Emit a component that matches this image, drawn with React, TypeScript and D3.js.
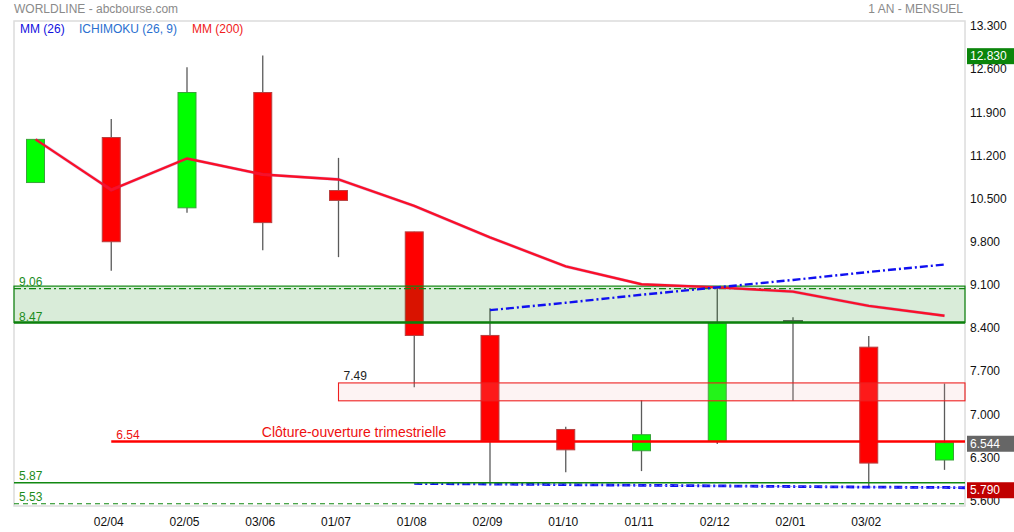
import React from 'react';
import * as d3 from 'd3';

const months = ['', '02/04', '02/05', '03/06', '01/07', '01/08', '02/09', '01/10', '01/11', '02/12', '02/01', '03/02', ''];
const opens = [10.74, 11.47, 10.33, 12.2, 10.61, 9.94, 8.26, 6.735, 6.39, 6.54, 8.49, 8.07, 6.24];
const highs = [11.44, 11.77, 12.61, 12.8, 11.14, 9.94, 8.7, 6.78, 7.21, 9.03, 8.555, 8.25, 7.48];
const lows = [10.74, 9.31, 10.25, 9.64, 9.53, 7.42, 5.87, 6.04, 6.06, 6.5, 7.2, 5.79, 6.08];
const closes = [11.44, 9.78, 12.2, 10.09, 10.45, 8.26, 6.55, 6.405, 6.65, 8.457, 8.5, 6.19, 6.52];
const mm200 = [11.44, 10.62, 11.13, 10.87, 10.79, 10.36, 9.85, 9.38, 9.09, 9.04, 8.97, 8.74, 8.58];
const ichiUpperStart = 6;
const ichiUpper = [8.67, 8.79, 8.92, 9.04, 9.16, 9.29, 9.41];
const ichiLowerStart = 5;
const ichiLower = [5.86, 5.85, 5.84, 5.83, 5.82, 5.81, 5.8, 5.795];
const yTicks = [13.3, 12.6, 11.9, 11.2, 10.5, 9.8, 9.1, 8.4, 7.7, 7.0, 6.3, 5.6];
const greenBand = { top: 9.06, bottom: 8.47, dashLine: 9.02 };
const pinkBand = { top: 7.49, bottom: 7.2, startIndex: 4, label: '7.49' };
const redLevel = { value: 6.54, startIndex: 1, label: '6.54', text: 'Clôture-ouverture trimestrielle' };
const greenLevel = { value: 5.87, label: '5.87' };
const greenDashed = { value: 5.53, label: '5.53' };
const priceBoxes = [
  { value: 12.83, color: '#0b850b' },
  { value: 6.544, color: '#666666' },
  { value: 5.79, color: '#c00000' },
];
const legend = [
  { text: 'MM (26)', color: '#1010e0', x: 20 },
  { text: 'ICHIMOKU (26, 9)', color: '#2a70d0', x: 79 },
  { text: 'MM (200)', color: '#f02020', x: 192 },
];

const W = 1014;
const H = 532;
const L = 14, R = 965, T = 21, B = 506;
const FONT = 'Liberation Sans, Arial, sans-serif';

export default function App() {
  const y = d3.scaleLinear().domain([8.47, 6.54]).range([322.5, 441.5]);
  const x = d3.scaleLinear().domain([0, 12]).range([35.5, 944.5]);
  const bw = 18;
  const fmt = d3.format('.3f');

  const line = d3.line<[number, number]>().x(d => x(d[0])).y(d => y(d[1]));
  const mmPath = line(mm200.map((v, i) => [i, v]));
  const upPath = line(ichiUpper.map((v, i) => [i + ichiUpperStart, v]));
  const lowPts: [number, number][] = ichiLower.map((v, i) => [i + ichiLowerStart, v]);
  lowPts.push([x.invert(R), ichiLower[ichiLower.length - 1] - 0.005]);
  const lowPath = line(lowPts);

  return (
    <svg width={W} height={H} style={{ position: 'absolute', left: 0, top: 0, background: '#fff' }} fontFamily={FONT}>
      <rect x={0} y={0} width={W} height={H} fill="#fff" />
      {/* title */}
      <text x={14} y={13} fontSize={12} fill="#8a8a8a">WORLDLINE - abcbourse.com</text>
      <text x={963} y={13} fontSize={12} fill="#8a8a8a" textAnchor="end">1 AN - MENSUEL</text>
      {/* frame */}
      <rect x={L} y={T} width={R - L} height={B - T} fill="none" stroke="#dcdcdc" strokeWidth={1.5} />
      {/* legend */}
      {legend.map(l => (
        <text key={l.text} x={l.x} y={33} fontSize={12} fill={l.color}>{l.text}</text>
      ))}
      {/* candles */}
      {opens.map((o, i) => {
        const c = closes[i];
        const up = c >= o;
        const top = y(Math.max(o, c));
        const bot = y(Math.min(o, c));
        const h = Math.max(1, bot - top);
        const cx = x(i);
        const doji = Math.abs(c - o) < 0.05;
        return (
          <g key={i}>
            <line x1={cx} x2={cx} y1={y(highs[i])} y2={y(lows[i])} stroke="#5a5a5a" strokeWidth={1.3} />
            {doji ? (
              <rect x={cx - 9.5} y={top} width={19} height={h} fill="#666" stroke="#555" strokeWidth={1} />
            ) : (
              <rect x={cx - bw / 2} y={top} width={bw} height={h}
                fill={up ? '#00ff00' : '#ff0000'} stroke={up ? '#3aa33a' : '#b84040'} strokeWidth={1} />
            )}
          </g>
        );
      })}
      {/* green band */}
      <rect x={L} y={y(greenBand.top)} width={R - L} height={y(greenBand.bottom) - y(greenBand.top)}
        fill="#008000" fillOpacity={0.15} stroke="#118811" strokeWidth={1.2} />
      <line x1={L} x2={R} y1={y(greenBand.dashLine)} y2={y(greenBand.dashLine)} stroke="#118811" strokeWidth={1.3} strokeDasharray="7,3,2,3" />
      <line x1={L} x2={R} y1={y(greenBand.bottom)} y2={y(greenBand.bottom)} stroke="#0d800d" strokeWidth={2.6} />
      <text x={19} y={y(greenBand.top) - 0.5} fontSize={12} fill="#1c8c1c">9.06</text>
      <text x={19} y={y(greenBand.bottom) - 2} fontSize={12} fill="#1c8c1c">8.47</text>
      {/* pink band */}
      <rect x={x(pinkBand.startIndex)} y={y(pinkBand.top)} width={R - x(pinkBand.startIndex)} height={y(pinkBand.bottom) - y(pinkBand.top)}
        fill="rgb(244,174,174)" fillOpacity={0.15} stroke="#ee2020" strokeWidth={1.1} />
      <text x={x(pinkBand.startIndex) + 5} y={y(pinkBand.top) - 3} fontSize={12} fill="#222">{pinkBand.label}</text>
      {/* MM200 */}
      <path d={mmPath || ''} fill="none" stroke="#8a40c0" strokeWidth={3.2} strokeOpacity={0.3} />
      <path d={mmPath || ''} fill="none" stroke="#fa1028" strokeWidth={2.4} />
      {/* ichimoku */}
      <path d={upPath || ''} fill="none" stroke="#1010f0" strokeWidth={2.4} strokeDasharray="8,3,2,3" />
      <path d={lowPath || ''} fill="none" stroke="#1010f0" strokeWidth={2.8} strokeDasharray="8,3,2,3" />
      <path d={lowPath || ''} fill="none" stroke="#7080ff" strokeWidth={1} strokeDasharray="3,2" strokeOpacity={0.6} />
      {/* red level */}
      <line x1={x(redLevel.startIndex)} x2={R} y1={y(redLevel.value)} y2={y(redLevel.value)} stroke="#ff0000" strokeWidth={2.4} />
      <text x={x(redLevel.startIndex) + 5} y={y(redLevel.value) - 3} fontSize={12} fill="#ee1010">{redLevel.label}</text>
      <text x={354} y={y(redLevel.value) - 4.5} fontSize={14} fill="#ee1010" textAnchor="middle">{redLevel.text}</text>
      {/* green levels */}
      <line x1={L} x2={R} y1={y(greenLevel.value)} y2={y(greenLevel.value)} stroke="#118811" strokeWidth={1.5} />
      <text x={19} y={y(greenLevel.value) - 3} fontSize={12} fill="#1c8c1c">{greenLevel.label}</text>
      <line x1={L} x2={R} y1={y(greenDashed.value)} y2={y(greenDashed.value)} stroke="#118811" strokeWidth={1.2} strokeDasharray="5,4" />
      <text x={19} y={y(greenDashed.value) - 3} fontSize={12} fill="#1c8c1c">{greenDashed.label}</text>
      {/* y axis */}
      {yTicks.map(t => (
        <text key={t} x={970} y={y(t) + 1.5} fontSize={12} fill="#111" dominantBaseline="central">{fmt(t)}</text>
      ))}
      {priceBoxes.map(p => (
        <g key={p.value}>
          <rect x={967} y={y(p.value) + 2.5 - 8} width={47} height={16} fill={p.color} />
          <text x={970} y={y(p.value) + 2.5} fontSize={12} fill="#fff" dominantBaseline="central">{fmt(p.value)}</text>
        </g>
      ))}
      {/* x axis */}
      {months.map((m, i) => m ? (
        <text key={i} x={x(i) - 2.5} y={526} fontSize={12} fill="#111" textAnchor="middle">{m}</text>
      ) : null)}
    </svg>
  );
}
